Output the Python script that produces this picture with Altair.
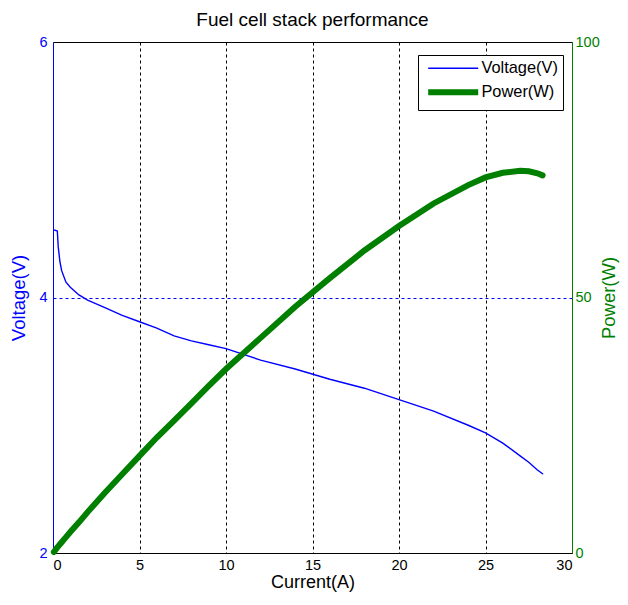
import altair as alt
import pandas as pd

current = [0.05, 0.25, 0.3, 0.4, 0.5, 0.75, 1, 1.5, 2, 3, 4, 5, 6, 7, 8, 9, 10,
           12, 14, 16, 18, 20, 22, 24, 25, 26, 27, 27.5, 28, 28.3]
voltage = [4.53, 4.52, 4.40, 4.28, 4.21, 4.12, 4.08, 4.02, 3.98, 3.92, 3.86, 3.81,
           3.76, 3.70, 3.66, 3.63, 3.60, 3.51, 3.44, 3.36, 3.29, 3.20, 3.11, 3.00,
           2.94, 2.86, 2.76, 2.71, 2.65, 2.62]
power = [0.2, 1.1, 1.3, 1.7, 2.1, 3.1, 4.1, 6.0, 8.0, 11.8, 15.4, 19.0, 22.6, 25.9,
         29.3, 32.7, 36.0, 42.1, 48.2, 53.8, 59.2, 64.0, 68.4, 72.0, 73.5, 74.4,
         74.8, 74.7, 74.3, 73.9]
series_names = ["Voltage(V)", "Power(W)"]
series_colors = ["#0000FF", "#007F00"]
series_widths = [1.4, 6]

dv = pd.DataFrame({"I": current, "val": voltage, "series": series_names[0]})
dp = pd.DataFrame({"I": current, "val": power, "series": series_names[1]})

FONT = "Liberation Sans"

x = alt.X("I:Q", title="Current(A)",
          scale=alt.Scale(domain=[0, 30], nice=False),
          axis=alt.Axis(values=[0, 5, 10, 15, 20, 25, 30], grid=True,
                        gridColor="black", gridDash=[3, 3],
                        gridOpacity={"condition": {"test": "datum.value > 0 && datum.value < 30",
                                                   "value": 1}, "value": 0},
                        domainColor="black", ticks=False, labelPadding=5,
                        labelColor="black", labelFontSize=14.5, titleFontSize=18,
                        titleFontWeight="normal", titleColor="black", titlePadding=2,
                        labelFont=FONT, titleFont=FONT))

color = alt.Color("series:N", scale=alt.Scale(domain=series_names, range=series_colors),
                  legend=alt.Legend(title=None, orient="none", legendX=365, legendY=13,
                                    symbolType="M-1,0H9", symbolSize=100, symbolOffset=2,
                                    labelFontSize=16.4, labelFont=FONT, labelColor="black",
                                    fillColor="white", strokeColor="black",
                                    padding=5, rowPadding=3, labelOffset=40))
sw = alt.StrokeWidth("series:N", scale=alt.Scale(domain=series_names, range=series_widths),
                     legend=None)

volt = alt.Chart(dv).mark_line(strokeCap="round").encode(
    x=x,
    y=alt.Y("val:Q", title="Voltage(V)",
            scale=alt.Scale(domain=[2, 6], nice=False),
            axis=alt.Axis(values=[2, 4, 6], grid=True, gridColor="#0000FF",
                          gridDash=[3, 3],
                          gridOpacity={"condition": {"test": "datum.value > 2 && datum.value < 6",
                                                     "value": 1}, "value": 0},
                          domainColor="#0000FF",
                          ticks=False, labelPadding=6, labelColor="#0000FF",
                          titleColor="#0000FF", labelFontSize=14.5, titleFontSize=18.5,
                          titleFontWeight="normal", titlePadding=10,
                          labelFont=FONT, titleFont=FONT)),
    color=color, strokeWidth=sw)

pw = alt.Chart(dp).mark_line(strokeCap="round").encode(
    x=x,
    y=alt.Y("val:Q", title="Power(W)",
            scale=alt.Scale(domain=[0, 100], nice=False),
            axis=alt.Axis(orient="right", values=[0, 50, 100], grid=False,
                          domainColor="#007F00", ticks=False, labelPadding=3,
                          labelColor="#007F00", titleColor="#007F00",
                          labelFontSize=14.5, titleFontSize=18.5, titleAngle=270,
                          titleFontWeight="normal", titlePadding=19,
                          labelFont=FONT, titleFont=FONT)),
    color=color, strokeWidth=sw)

chart = alt.layer(volt, pw).resolve_scale(y="independent").properties(
    width=519, height=511,
    title=alt.Title("Fuel cell stack performance", fontSize=19, font=FONT,
                    fontWeight="normal", color="black", offset=4),
    padding={"left": 45, "top": 34, "right": 48, "bottom": 40},
    autosize=alt.AutoSizeParams(type="none"),
).configure_view(stroke="black", strokeWidth=1)

chart.save("out.html", embed_options={"renderer": "svg", "actions": False})
